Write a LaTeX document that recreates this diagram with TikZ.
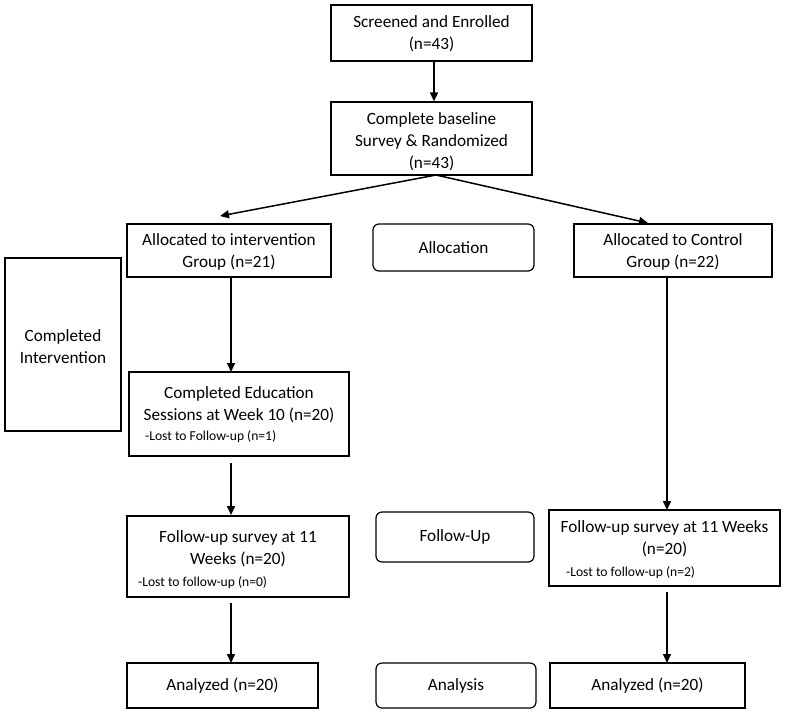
\documentclass[tikz,border=0pt]{standalone}
\usepackage{fontspec}
\setmainfont{Carlito}
\usetikzlibrary{arrows.meta}
\begin{document}
\begin{tikzpicture}[x=1pt,y=-1pt,
  box/.style={draw=black, line width=1.2pt, inner sep=0pt, fill=white},
  rbox/.style={box, rounded corners=6pt},
  txt/.style={inner sep=0pt, align=center, font=\fontsize{17.2}{22}\selectfont},
  small/.style={inner sep=0pt, anchor=west, font=\fontsize{13.6}{15}\selectfont},
  arr/.style={line width=1.5pt, -{Triangle[length=9pt,width=8pt]}}]
\useasboundingbox (0,0) rectangle (800,715);
% boxes
\node[box, minimum width=201pt, minimum height=56pt] (b1) at (431.5,33) {};
\node[txt] (b1t) at (431.5,34) {Screened and Enrolled\\(n=43)};
\node[box, minimum width=201pt, minimum height=73pt] (b2) at (431.5,138.5) {};
\node[txt] (b2t) at (431.5,142) {Complete baseline\\Survey \& Randomized\\(n=43)};
\node[box, minimum width=204pt, minimum height=53pt] (b3) at (229,250.5) {};
\node[txt] (b3t) at (229,252) {Allocated to intervention\\Group (n=21)};
\node[rbox, minimum width=161pt, minimum height=47pt] (alloc) at (453.5,247.5) {};
\node[txt] (alloct) at (453.5,247.5) {Allocation};
\node[box, minimum width=198pt, minimum height=53pt] (b5) at (673,250.5) {};
\node[txt] (b5t) at (673,252) {Allocated to Control\\Group (n=22)};
\node[box, minimum width=116pt, minimum height=173pt] (ci) at (63,344.5) {};
\node[txt] (cit) at (63,347) {Completed\\Intervention};
\node[box, minimum width=220pt, minimum height=84pt] (b7) at (239,414) {};
\node[txt] (b7t) at (239,405) {Completed Education\\Sessions at Week 10 (n=20)};
\node[small] (b7l) at (145,437) {-Lost to Follow-up (n=1)};
\node[box, minimum width=222pt, minimum height=81pt] (b8) at (238,556.5) {};
\node[txt] (b8t) at (238,549) {Follow-up survey at 11\\Weeks (n=20)};
\node[small] (b8l) at (138,583) {-Lost to follow-up (n=0)};
\node[rbox, minimum width=158pt, minimum height=50pt] (fu) at (455,537) {};
\node[txt] (fut) at (455,537) {Follow-Up};
\node[box, minimum width=231pt, minimum height=76pt] (b10) at (664.5,548) {};
\node[txt] (b10t) at (664.5,539) {Follow-up survey at 11 Weeks\\(n=20)};
\node[small] (b10l) at (566,573) {-Lost to follow-up (n=2)};
\node[box, minimum width=191pt, minimum height=45pt] (a1) at (222.5,685.5) {};
\node[txt] (a1t) at (222.5,685.5) {Analyzed (n=20)};
\node[rbox, minimum width=160pt, minimum height=45pt] (an) at (456,685.5) {};
\node[txt] (ant) at (456,685.5) {Analysis};
\node[box, minimum width=195pt, minimum height=45pt] (a2) at (647.5,685.5) {};
\node[txt] (a2t) at (647.5,685.5) {Analyzed (n=20)};
% connector points
\coordinate (s2) at (436,175);
\coordinate (t3) at (220,216);
\coordinate (t5) at (648,223);
\coordinate (l1a) at (231,277);
\coordinate (l1b) at (231,372);
\coordinate (l2a) at (231,463);
\coordinate (l2b) at (231,515);
\coordinate (l3a) at (231,603);
\coordinate (l3b) at (231,663);
\coordinate (r1a) at (667,277);
\coordinate (r1b) at (667,510);
\coordinate (r2a) at (667,592);
\coordinate (r2b) at (667,663);
% arrows
\draw[arr] (b1.south -| 434,0) -- (b2.north -| 434,0);
\draw[arr] (s2) -- (t3);
\draw[arr] (s2) -- (t5);
\draw[arr] (l1a) -- (l1b);
\draw[arr] (l2a) -- (l2b);
\draw[arr] (l3a) -- (l3b);
\draw[arr] (r1a) -- (r1b);
\draw[arr] (r2a) -- (r2b);
\end{tikzpicture}
\end{document}
